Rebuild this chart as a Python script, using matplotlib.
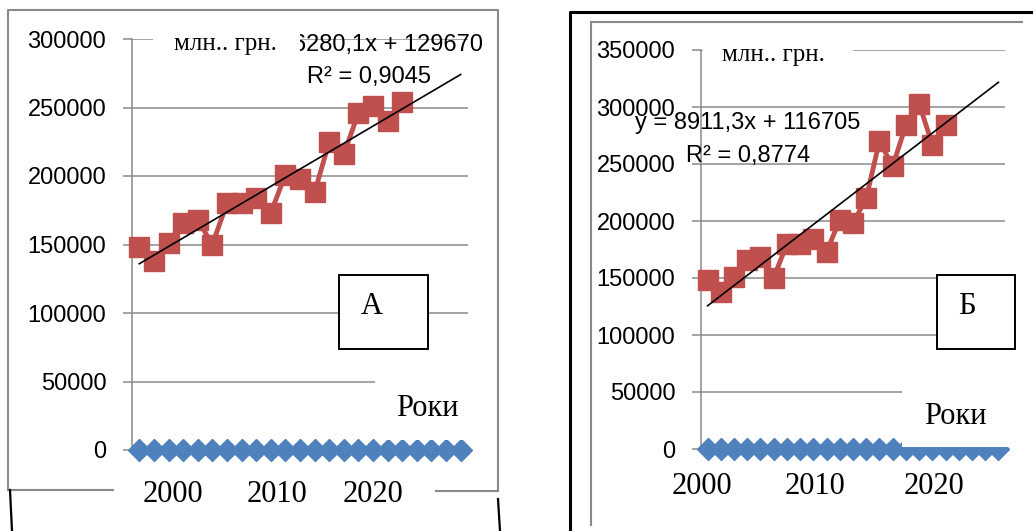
import matplotlib
matplotlib.use("Agg")
import matplotlib.pyplot as plt
from matplotlib.patches import Rectangle
from matplotlib.lines import Line2D
from matplotlib.ticker import MultipleLocator, FixedLocator

W, H = 1033, 531

# categories on the x axis (positions 1..23), revenue series on 1..19
cats = list(range(1, 24))
zeros = [0] * len(cats)
cats_a = list(range(1, 20))
vals_a = [148000, 138000, 151000, 166000, 168000, 150000, 180000, 180000,
          184000, 173000, 201000, 198000, 188000, 225000, 216000, 246000,
          251000, 240000, 254000]
vals_b = [148000, 138000, 151000, 166000, 168000, 150000, 180000, 180000,
          184000, 173000, 201000, 198000, 220000, 270000, 248000, 284000,
          303000, 267000, 284000]

# trend coefficients as printed on the chart
trend_a = (6280.1, 129670, "0,9045")
trend_b = (8911.3, 116705, "0,8774")
year_labels = ["2000", "2010", "2020"]

RED = "#C0504D"
BLUE = "#4F81BD"
GRID = "#8A8A8A"
SANS = "Liberation Sans"
SERIF = "Liberation Serif"


def fx(x):
    return x / W


def fy(y):
    return 1 - y / H


fig = plt.figure(figsize=(W / 100, H / 100), dpi=100)
fig.patch.set_facecolor("white")


def fig_line(xs, ys, color="black", lw=1.5):
    fig.add_artist(Line2D([fx(v) for v in xs], [fy(v) for v in ys],
                          color=color, lw=lw, transform=fig.transFigure))


def white_box(x0, y0, x1, y1, edge=None, lw=1.4):
    fig.add_artist(Rectangle((fx(x0), fy(y1)), fx(x1) - fx(x0),
                             fy(y0) - fy(y1), transform=fig.transFigure,
                             facecolor="white",
                             edgecolor=edge if edge else "none",
                             lw=lw, zorder=2))


def panel(left, right, top, bottom, ymax, vals, trend):
    ax = fig.add_axes([fx(left), fy(bottom), fx(right) - fx(left),
                       fy(top) - fy(bottom)])
    ax.set_xlim(0.5, 23.5)
    ax.set_ylim(0, ymax)
    for s in ("top", "right"):
        ax.spines[s].set_visible(False)
    for s in ("left", "bottom"):
        ax.spines[s].set_color(GRID)
        ax.spines[s].set_linewidth(1.1)
    ax.yaxis.set_major_locator(MultipleLocator(50000))
    ax.yaxis.grid(True, color=GRID, lw=1.1)
    ax.set_axisbelow(True)
    ax.tick_params(axis="y", direction="out", length=6.5, width=1.1,
                   color=GRID, pad=12, labelsize=17)
    for lab in ax.get_yticklabels():
        lab.set_fontfamily(SANS)
    ax.xaxis.set_major_locator(FixedLocator([]))
    ax.xaxis.set_minor_locator(FixedLocator([i + 0.5 for i in range(24)]))
    ax.tick_params(axis="x", which="minor", direction="out", length=3,
                   width=1, color=GRID)

    ax.plot(cats, zeros, color=BLUE, marker="D", ms=11.5, lw=2,
            clip_on=False, zorder=3)
    ax.plot(cats_a, vals, color=RED, marker="s", ms=15, lw=3.5,
            clip_on=False, zorder=4)
    k, b, r2 = trend
    ax.plot([1, 23], [k * 1 + b, k * 23 + b], color="black", lw=1.2,
            zorder=5, clip_on=False)
    return ax


ax_a = panel(132, 468, 39, 450, 300000, vals_a, trend_a)
ax_b = panel(701, 1005, 50, 449, 350000, vals_b, trend_b)

# trendline equations
for (k, b, r2), cx, y1, y2 in [(trend_a, 369, 45, 77), (trend_b, 748, 123, 156)]:
    eq = f"y = {k:.1f}".replace(".", ",") + f"x + {b}"
    fig.text(fx(cx), fy(y1), eq, ha="center", va="center", fontsize=17,
             family=SANS, zorder=1)
    fig.text(fx(cx), fy(y2), f"R² = {r2}", ha="center", va="center",
             fontsize=17, family=SANS, zorder=1)

# left panel frame
fig_line([8, 8, 498, 498], [490, 10, 10, 491], color=GRID, lw=1.5)
fig_line([8, 113], [490, 490], color=GRID, lw=1.5)
fig_line([436, 498], [491, 491], color=GRID, lw=1.5)
fig_line([10, 12], [490, 531], lw=1.6)
fig_line([498, 500], [499, 531], lw=1.6)

# right panel frame
fig_line([591, 591], [525, 22], color=GRID, lw=1.5)
fig_line([591, 1022], [22, 22], color=GRID, lw=1.5)
fig_line([570, 570, 1033], [531, 12, 12], lw=2.2)

# unit labels
white_box(153, 22, 300, 62)
fig.text(fx(225), fy(44), "млн.. грн.", ha="center", va="center",
         fontsize=18, family=SERIF, zorder=3)
white_box(703, 30, 853, 73)
fig.text(fx(773), fy(55), "млн.. грн.", ha="center", va="center",
         fontsize=18, family=SERIF, zorder=3)

# axis name boxes
white_box(375, 372, 478, 440)
fig.text(fx(427), fy(408), "Роки", ha="center", va="center",
         fontsize=22, family=SERIF, zorder=3)
white_box(902, 378, 1012, 447)
fig.text(fx(955), fy(417), "Роки", ha="center", va="center",
         fontsize=22, family=SERIF, zorder=3)

# panel letters
white_box(339, 275, 428, 349, edge="black")
fig.text(fx(372), fy(306), "А", ha="center", va="center",
         fontsize=22, family=SERIF, zorder=3)
white_box(937, 275, 1015, 349, edge="black")
fig.text(fx(967), fy(306), "Б", ha="center", va="center",
         fontsize=22, family=SERIF, zorder=3)

# year captions under the axes
for lab, x in zip(year_labels, [173, 277, 373]):
    fig.text(fx(x), fy(495), lab, ha="center", va="center",
             fontsize=22, family=SERIF, zorder=3)
for lab, x in zip(year_labels, [702, 815, 934]):
    fig.text(fx(x), fy(487), lab, ha="center", va="center",
             fontsize=22, family=SERIF, zorder=3)

fig.savefig("out.png", dpi=100, facecolor="white")
